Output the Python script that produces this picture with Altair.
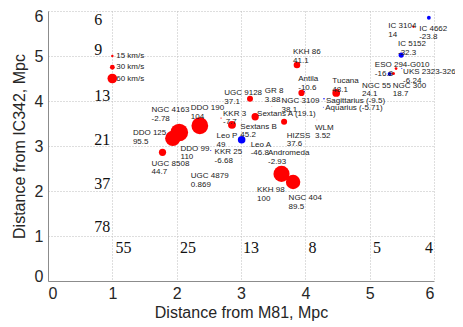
import altair as alt
import pandas as pd

# ---- galaxies: distance from M81 (x), distance from IC342 (y), velocity, dot colour
names = ["KKH 86", "Antila", "NGC 3109", "Tucana", "Sagittarius", "Aquarius", "WLM",
         "HIZSS", "GR 8", "UGC 9128", "Sextans A", "Sextans B", "Leo P", "KKR 3",
         "DDO 190", "DDO 125", "DDO 99", "NGC 4163", "UGC 8508", "UGC 4879", "KKR 25",
         "Leo A", "Andromeda", "KKH 98", "NGC 404", "NGC 55", "NGC 300",
         "ESO 294-G010", "UKS 2323-326", "IC 5152", "IC 3104", "IC 4662"]
velocities = [41.1, -10.6, 38.1, 48.1, -9.5, -5.71, 3.52,
              37.6, 3.88, 37.1, 19.1, 45.2, 49, -7.7,
              104, 95.5, 110, -2.78, 44.7, 0.869, -6.68,
              -46.8, -2.93, 100, 89.5, 24.1, 18.7,
              -16.8, -6.24, -32.3, 14, -23.8]
x_m81 = [3.87, 3.98, 3.94, 4.48, 4.29, 4.28, 4.18,
         3.67, 3.48, 3.14, 3.22, 3.22, 2.86, 2.69,
         2.36, 1.94, 2.04, 2.02, 1.78, 2.18, 2.53,
         3.01, 3.37, 3.63, 3.81, 5.31, 5.37,
         5.41, 5.50, 5.49, 5.68, 5.92]
y_ic342 = [4.80, 4.21, 4.18, 4.18, 4.05, 3.86, 3.58,
           3.54, 3.88, 4.05, 3.68, 3.65, 3.47, 3.62,
           3.45, 3.17, 3.30, 3.79, 2.86, 2.50, 2.90,
           3.14, 2.90, 2.38, 2.20, 4.60, 4.61,
           4.72, 4.72, 5.02, 5.65, 5.85]
dot_colors = ["r", "b", "r", "r", "b", "b", "r",
              "r", "r", "r", "r", "r", "r", "r",
              "r", "r", "r", "r", "r", "r", "b",
              "b", "b", "r", "r", "b", "r",
              "r", "b", "b", "r", "b"]
one_line = ["Sagittarius", "Aquarius", "Sextans A"]

# label anchor (left edge, vertical middle of the text block), data units
label_x = [3.81, 3.89, 3.63, 4.42, 4.32, 4.31, 4.15,
           3.71, 3.37, 2.74, 3.25, 2.99, 2.62, 2.72,
           2.22, 1.32, 2.06, 1.61, 1.61, 2.22, 2.59,
           3.15, 3.42, 3.25, 3.74, 4.88, 5.36,
           5.08, 5.52, 5.44, 5.29, 5.77]
label_y = [5.09, 4.48, 4.00, 4.45, 4.01, 3.84, 3.41,
           3.23, 4.22, 4.17, 3.71, 3.43, 3.22, 3.72,
           3.84, 3.28, 2.94, 3.79, 2.61, 2.33, 2.86,
           3.03, 2.85, 2.02, 1.84, 4.34, 4.34,
           4.80, 4.65, 5.26, 5.67, 5.61]

# ---- size key
legend_speeds = [15, 30, 60]
legend_x = [1.0, 1.0, 1.0]
legend_y = [5.0, 4.75, 4.5]
legend_texts = ["15 km/s", "30 km/s", "60 km/s"]

# ---- large serif numbers
left_numbers = ["6", "9", "13", "21", "37", "78"]
left_numbers_y = [5.80, 5.13, 4.12, 3.14, 2.15, 1.20]
bottom_numbers = ["55", "25", "13", "8", "5", "4"]
bottom_numbers_x = [1.05, 2.05, 3.03, 4.05, 5.05, 5.86]


def fmt(v):
    return str(v)


labels = [f"{n} ({fmt(v)})" if n in one_line else f"{n}\n{fmt(v)}"
          for n, v in zip(names, velocities)]

dots = pd.concat([
    pd.DataFrame({"x": legend_x, "y": legend_y,
                  "speed": legend_speeds, "col": ["r"] * 3}),
    pd.DataFrame({"x": x_m81, "y": y_ic342,
                  "speed": [abs(v) for v in velocities], "col": dot_colors}),
], ignore_index=True)
dots["order"] = range(len(dots))

lab_df = pd.DataFrame({"x": label_x, "y": label_y, "t": labels})
leg_df = pd.DataFrame({"x": [x + 0.06 for x in legend_x], "y": legend_y, "t": legend_texts})
num_df = pd.concat([
    pd.DataFrame({"x": [0.72] * len(left_numbers), "y": left_numbers_y, "t": left_numbers}),
    pd.DataFrame({"x": bottom_numbers_x, "y": [0.73] * len(bottom_numbers), "t": bottom_numbers}),
], ignore_index=True)

ticks = [0, 1, 2, 3, 4, 5, 6]
common = dict(values=ticks, format="d", grid=True, gridDash=[1, 2], gridColor="#bdbdbd",
              domainColor="#8c8c8c", ticks=False, labelFont="Liberation Sans",
              labelFontSize=16, labelColor="#262626", titleFont="Liberation Sans",
              titleFontSize=16, titleFontWeight="normal", titleColor="#262626")
X = alt.X("x:Q", scale=alt.Scale(domain=[0, 6], nice=False),
          axis=alt.Axis(title="Distance from M81, Mpc", labelPadding=4, titlePadding=3, **common))
Y = alt.Y("y:Q", scale=alt.Scale(domain=[0, 6], nice=False),
          axis=alt.Axis(title="Distance from IC342, Mpc", labelPadding=5, titlePadding=7,
                        labelFlush=True, labelFlushOffset=3, **common))

points = alt.Chart(dots).mark_circle(opacity=1, stroke=None).encode(
    x=X, y=Y,
    size=alt.Size("speed:Q", scale=alt.Scale(type="pow", exponent=2, domain=[0, 100],
                                             range=[0, 260]), legend=None),
    color=alt.Color("col:N", scale=alt.Scale(domain=["r", "b"], range=["#ff0000", "#0000ff"]),
                    legend=None),
    order="order:Q",
)

gal_text = alt.Chart(lab_df).mark_text(
    align="left", baseline="middle", lineBreak="\n", font="Liberation Sans",
    fontSize=8, lineHeight=8.8, color="#222222",
).encode(x=X, y=Y, text="t:N")

leg_text = alt.Chart(leg_df).mark_text(
    align="left", baseline="middle", font="Liberation Sans", fontSize=8, color="#222222",
).encode(x=X, y=Y, text="t:N")

num_text = alt.Chart(num_df).mark_text(
    align="left", baseline="middle", font="Liberation Serif", fontSize=16, color="#111111",
).encode(x=X, y=Y, text="t:N")

chart = alt.layer(num_text, points, gal_text, leg_text).properties(
    width=386, height=270,
    padding={"left": 40, "top": 3, "right": 21, "bottom": 44},
    autosize="none",
).configure_view(stroke=None)

chart.save("out.html", embed_options={"renderer": "svg", "actions": False})
